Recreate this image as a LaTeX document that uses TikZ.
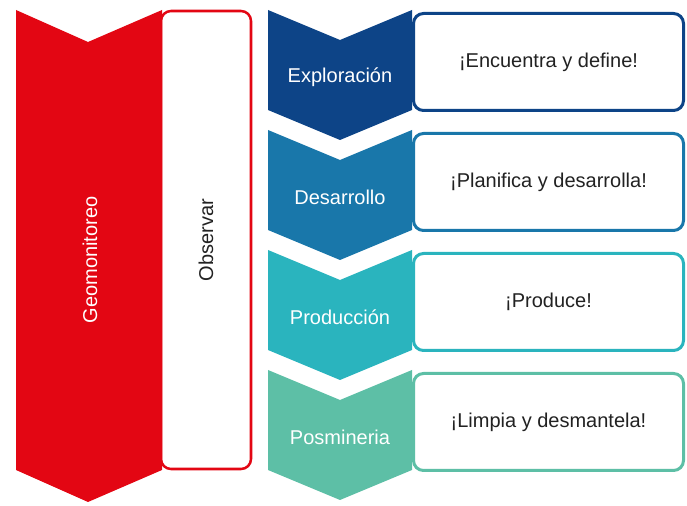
\documentclass[tikz,border=0pt]{standalone}
\usepackage{fontspec}
\setmainfont{Liberation Sans}
\usepackage{tikz}
\usetikzlibrary{positioning}
\definecolor{geored}{HTML}{E30613}
\definecolor{explo}{HTML}{0D4487}
\definecolor{desa}{HTML}{1977AA}
\definecolor{produ}{HTML}{2AB4BE}
\definecolor{posmi}{HTML}{5DBFA6}
\definecolor{ink}{HTML}{222222}

\begin{document}
\begin{tikzpicture}[x=0.75pt,y=-0.75pt,
  lbl/.style={font=\fontsize{15}{18}\selectfont,text=white},
  box/.style={draw,line width=2.25pt,rounded corners=7.5pt,fill=white,minimum width=202.5pt,minimum height=72.75pt,font=\fontsize{15}{18}\selectfont,text=ink},
  obsbox/.style={draw=geored,line width=1.9pt,rounded corners=7.5pt,fill=white,rotate=90,minimum width=343.5pt,minimum height=67.5pt,font=\fontsize{15}{18}\selectfont,text=ink}]
\useasboundingbox (0,0) rectangle (687,506);
% left column: Geomonitoreo / Observar
\node[obsbox] (obs) at (206,240) {Observar};
\fill[geored] (16,10) -- (88,42) -- (162,10) -- (162,470) -- (88,502) -- (16,470) -- cycle;
\node[lbl,rotate=90] (geo) at (90,260) {Geomonitoreo};
% stages
\node[box,draw=explo] (enc) at (548.5,62) {¡Encuentra y define!};
\node[box,draw=desa] (pla) at (548.5,182) {¡Planifica y desarrolla!};
\node[box,draw=produ] (pro) at (548.5,302) {¡Produce!};
\node[box,draw=posmi] (lim) at (548.5,422) {¡Limpia y desmantela!};
\fill[explo] (268,10) -- ++(72,30) -- ++(72,-30) -- ++(0,100) -- ++(-72,30) -- ++(-72,-30) -- cycle;
\fill[desa] (268,130) -- ++(72,30) -- ++(72,-30) -- ++(0,100) -- ++(-72,30) -- ++(-72,-30) -- cycle;
\fill[produ] (268,250) -- ++(72,30) -- ++(72,-30) -- ++(0,100) -- ++(-72,30) -- ++(-72,-30) -- cycle;
\fill[posmi] (268,370) -- ++(72,30) -- ++(72,-30) -- ++(0,100) -- ++(-72,30) -- ++(-72,-30) -- cycle;
\node[lbl] (exp) at (340,77) {Exploración};
\node[lbl] (des) at (340,197) {Desarrollo};
\node[lbl] (prd) at (340,317) {Producción};
\node[lbl] (pos) at (340,437) {Posmineria};
\end{tikzpicture}
\end{document}
